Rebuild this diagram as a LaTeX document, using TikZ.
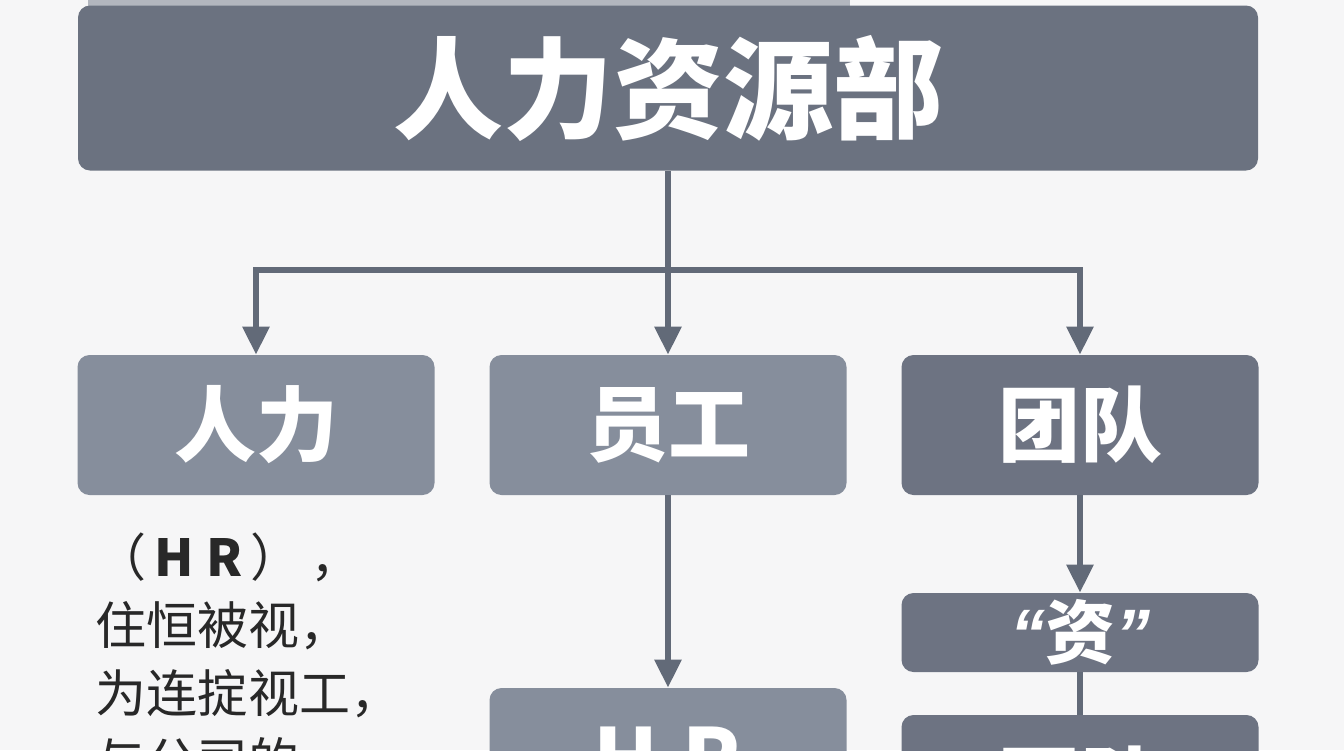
\documentclass[tikz,border=0pt]{standalone}
\usepackage{fontspec}
\usepackage{tikz}
\usetikzlibrary{arrows.meta}
\newfontfamily\cjk{Noto Sans CJK SC}
\newfontfamily\latin{Liberation Sans}
\definecolor{paper}{RGB}{246,246,247}
\definecolor{slate}{RGB}{107,114,128}
\definecolor{slatelight}{RGB}{134,142,156}
\definecolor{slatedark}{RGB}{109,115,130}
\definecolor{strip}{RGB}{178,182,190}
\definecolor{wire}{RGB}{98,106,120}
\definecolor{ink}{RGB}{40,40,40}

\begin{document}
\begin{tikzpicture}
    [x = .5pt, y = -.5pt,
      box/.style={rounded corners = 6pt, inner sep = 0pt, text = white,
        minimum width = 178.5pt, minimum height = 70pt},
      light/.style={box, fill = slatelight},
      dark/.style={box, fill = slatedark},
      big/.style={font = \cjk\bfseries\fontsize{41}{41}\selectfont},
      wire/.style={draw = wire, line width = 3pt},
      arrow/.style={wire, -{Triangle[length = 14pt, width = 13pt]}}]
    \useasboundingbox (0,0) rectangle (1344,750);
    \fill[paper] (0,0) rectangle (1344,750);
    \clip (0,0) rectangle (1344,750);
    \fill[strip] (88,0) rectangle (850,6);
    \node[box, fill = slate, minimum width = 590pt, minimum height = 82.5pt,
      font = \cjk\bfseries\fontsize{55}{55}\selectfont] (dept) at (668,88) {人力资源部};
    \node[light, big] (human) at (256,425) {人力};
    \node[light, big] (staff) at (668,425) {员工};
    \node[dark, big] (team) at (1080,425) {团队};
    \node[light, font = \cjk\bfseries\fontsize{42}{42}\selectfont] (hr) at (668,758) {H\hspace{12pt}R};
    \node[dark, minimum height = 39.5pt, font = \cjk\bfseries\fontsize{35}{35}\selectfont]
      (zi) at (1080,632.5) {{\latin\itshape “}资{\latin\itshape ”}};
    \node[dark, big] (team2) at (1080,785) {团队};
    \node[anchor = north west, align = left, text = ink, inner sep = 0pt,
      font = \cjk\fontsize{25.5}{34}\selectfont] (note) at (95,532)
      {（\,\textbf{H R}\,）\hspace{4.5pt}，\\住恒被视，\\为连掟视工，\\与公司的};
    % connectors
    \coordinate (split) at (668,270);
    \draw[arrow] (dept.south) -- (staff.north);
    \draw[arrow] (split) -| (human.north);
    \draw[arrow] (split) -| (team.north);
    \draw[arrow] (staff.south) -- (hr.north);
    \draw[arrow] (team.south) -- (zi.north);
    \draw[wire] (zi.south) -- (team2.north);
\end{tikzpicture}
\end{document}
